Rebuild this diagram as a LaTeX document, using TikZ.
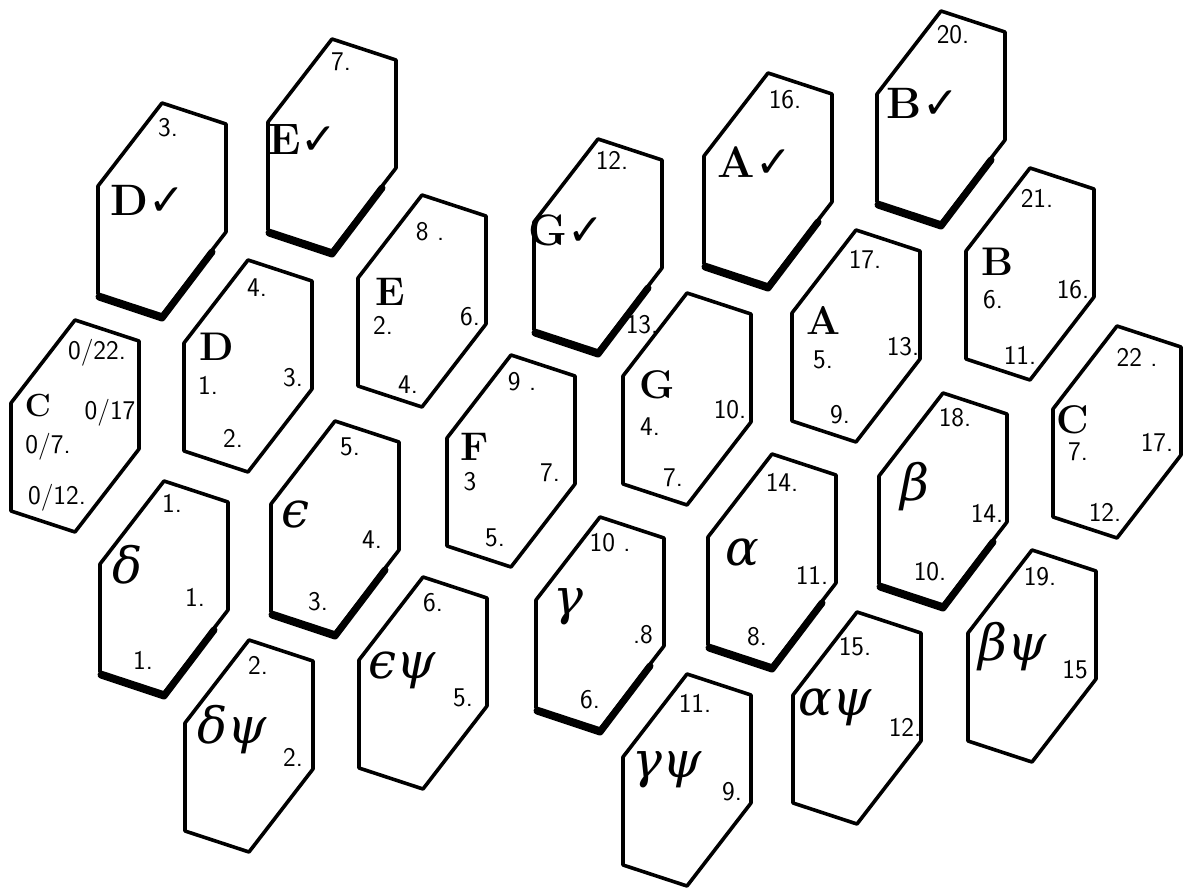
\documentclass[tikz,border=0pt]{standalone}
\usepackage{fontspec}
\newfontfamily\chk{DejaVu Sans}
\newfontfamily\grf{DejaVu Serif}
\begin{document}
\begin{tikzpicture}[x=1pt,y=-1pt,
 hexline/.style={line width=3.6pt,line join=round},
 shadowline/.style={line width=7pt,line cap=round,line join=round},
 num/.style={font=\sffamily\fontsize{27}{30}\selectfont,inner sep=0pt},
 bigl/.style={font=\bfseries\fontsize{44}{48}\selectfont,inner sep=0pt},
 midl/.style={font=\bfseries\fontsize{40}{44}\selectfont,inner sep=0pt},
 grk/.style={font=\grf\itshape\fontsize{50}{54}\selectfont,inner sep=0pt},
 hexa/.pic={\draw[hexline] (0,-106)--(64,-85)--(64,23)--(0,106)--(-64,85)--(-64,-23)--cycle;},
 hexs/.pic={\draw[hexline] (0,-106)--(64,-85)--(64,23)--(0,106)--(-64,85)--(-64,-23)--cycle;
            \draw[shadowline] (-63,88)--(0,109)--(50,43);}
]
\useasboundingbox (0,0) rectangle (1184,889);
% hexagons
\pic (h1) at (162,209) {hexs};
\pic (h2) at (332,145) {hexs};
\pic (h3) at (598,245) {hexs};
\pic (h4) at (768,179) {hexs};
\pic (h5) at (941,117) {hexs};
\pic (h6) at (75,426) {hexa};
\pic (h7) at (248,366) {hexa};
\pic (h8) at (422,301) {hexa};
\pic (h9) at (511,461) {hexa};
\pic (h10) at (687,399) {hexa};
\pic (h11) at (856,336) {hexa};
\pic (h12) at (1030,274) {hexa};
\pic (h13) at (1117,432) {hexa};
\pic (h14) at (943,499) {hexs};
\pic (h15) at (1032,656) {hexa};
\pic (h16) at (772,560) {hexs};
\pic (h17) at (600,623) {hexs};
\pic (h18) at (687,780) {hexa};
\pic (h19) at (857,718) {hexa};
\pic (h20) at (164,587) {hexs};
\pic (h21) at (335,527) {hexs};
\pic (h22) at (249,746) {hexa};
\pic (h23) at (423,683) {hexa};
% D check
\node[num] (a1) at (168,128) {3.};
\node[bigl] (a2) at (148,200) {D{\chk ✓}};
% E check
\node[num] (b1) at (341,62) {7.};
\node[bigl] (b2) at (303,140) {E{\chk ✓}};
% G check
\node[num] (c1) at (612,160) {12.};
\node[bigl] (c2) at (566,230) {G{\chk ✓}};
% A check
\node[num] (d1) at (785,100) {16.};
\node[bigl] (d2) at (755,162) {A{\chk ✓}};
% B check
\node[num] (e1) at (953,35) {20.};
\node[bigl] (e2) at (923,103) {B{\chk ✓}};
% C left
\node[num] (f1) at (97,353) {0/22.};
\node[font=\bfseries\fontsize{32}{34}\selectfont,inner sep=0pt] (f2) at (38,406) {C};
\node[num] (f3) at (110,413) {0/17};
\node[num] (f4) at (48,447) {0/7.};
\node[num] (f5) at (57,498) {0/12.};
% D
\node[num] (g1) at (257,288) {4.};
\node[midl] (g2) at (217,347) {D};
\node[num] (g3) at (208,385) {1.};
\node[num] (g4) at (293,378) {3.};
\node[num] (g5) at (233,438) {2.};
% E
\node[num] (i1) at (430,232) {8 .};
\node[midl] (i2) at (390,292) {E};
\node[num] (i3) at (383,325) {2.};
\node[num] (i4) at (470,317) {6.};
\node[num] (i5) at (408,385) {4.};
% F
\node[num] (j1) at (522,382) {9 .};
\node[midl] (j2) at (475,447) {F};
\node[num] (j3) at (470,482) {3};
\node[num] (j4) at (550,473) {7.};
\node[num] (j5) at (495,538) {5.};
% G
\node[num] (k1) at (642,325) {13.};
\node[midl] (k2) at (657,385) {G};
\node[num] (k3) at (650,427) {4.};
\node[num] (k4) at (730,410) {10.};
\node[num] (k5) at (673,478) {7.};
% A
\node[num] (m1) at (865,260) {17.};
\node[midl] (m2) at (823,320) {A};
\node[num] (m3) at (823,360) {5.};
\node[num] (m4) at (903,347) {13.};
\node[num] (m5) at (840,415) {9.};
% B
\node[num] (n1) at (1037,198) {21.};
\node[midl] (n2) at (997,262) {B};
\node[num] (n3) at (993,300) {6.};
\node[num] (n4) at (1073,290) {16.};
\node[num] (n5) at (1020,355) {11.};
% C right
\node[num] (o1) at (1137,357) {22 .};
\node[midl] (o2) at (1073,420) {C};
\node[num] (o3) at (1078,452) {7.};
\node[num] (o4) at (1157,443) {17.};
\node[num] (o5) at (1105,512) {12.};
% beta
\node[num] (p1) at (955,418) {18.};
\node[grk] (p2) at (915,487) {β};
\node[num] (p3) at (987,513) {14.};
\node[num] (p4) at (930,572) {10.};
% beta psi
\node[num] (q1) at (1040,577) {19.};
\node[grk] (q2) at (1013,647) {βψ};
\node[num] (q3) at (1075,670) {15};
% alpha
\node[num] (r1) at (782,482) {14.};
\node[grk] (r2) at (742,552) {α};
\node[num] (r3) at (812,575) {11.};
\node[num] (r4) at (757,637) {8.};
% gamma
\node[num] (s1) at (610,543) {10 .};
\node[grk] (s2) at (568,607) {γ};
\node[num] (s3) at (643,635) {.8};
\node[num] (s4) at (590,700) {6.};
% gamma psi
\node[num] (u1) at (695,703) {11.};
\node[grk] (u2) at (667,770) {γψ};
\node[num] (u3) at (732,792) {9.};
% alpha psi
\node[num] (v1) at (855,647) {15.};
\node[grk] (v2) at (835,707) {αψ};
\node[num] (v3) at (905,727) {12.};
% delta
\node[num] (w1) at (172,503) {1.};
\node[grk] (w2) at (128,565) {δ};
\node[num] (w3) at (195,597) {1.};
\node[num] (w4) at (143,660) {1.};
% epsilon
\node[num] (x1) at (350,447) {5.};
\node[grk] (x2) at (295,515) {ϵ};
\node[num] (x3) at (372,540) {4.};
\node[num] (x4) at (318,602) {3.};
% delta psi
\node[num] (y1) at (258,665) {2.};
\node[grk] (y2) at (232,730) {δψ};
\node[num] (y3) at (293,757) {2.};
% epsilon psi
\node[num] (z1) at (433,603) {6.};
\node[grk] (z2) at (402,670) {ϵψ};
\node[num] (z3) at (463,698) {5.};
\end{tikzpicture}
\end{document}
